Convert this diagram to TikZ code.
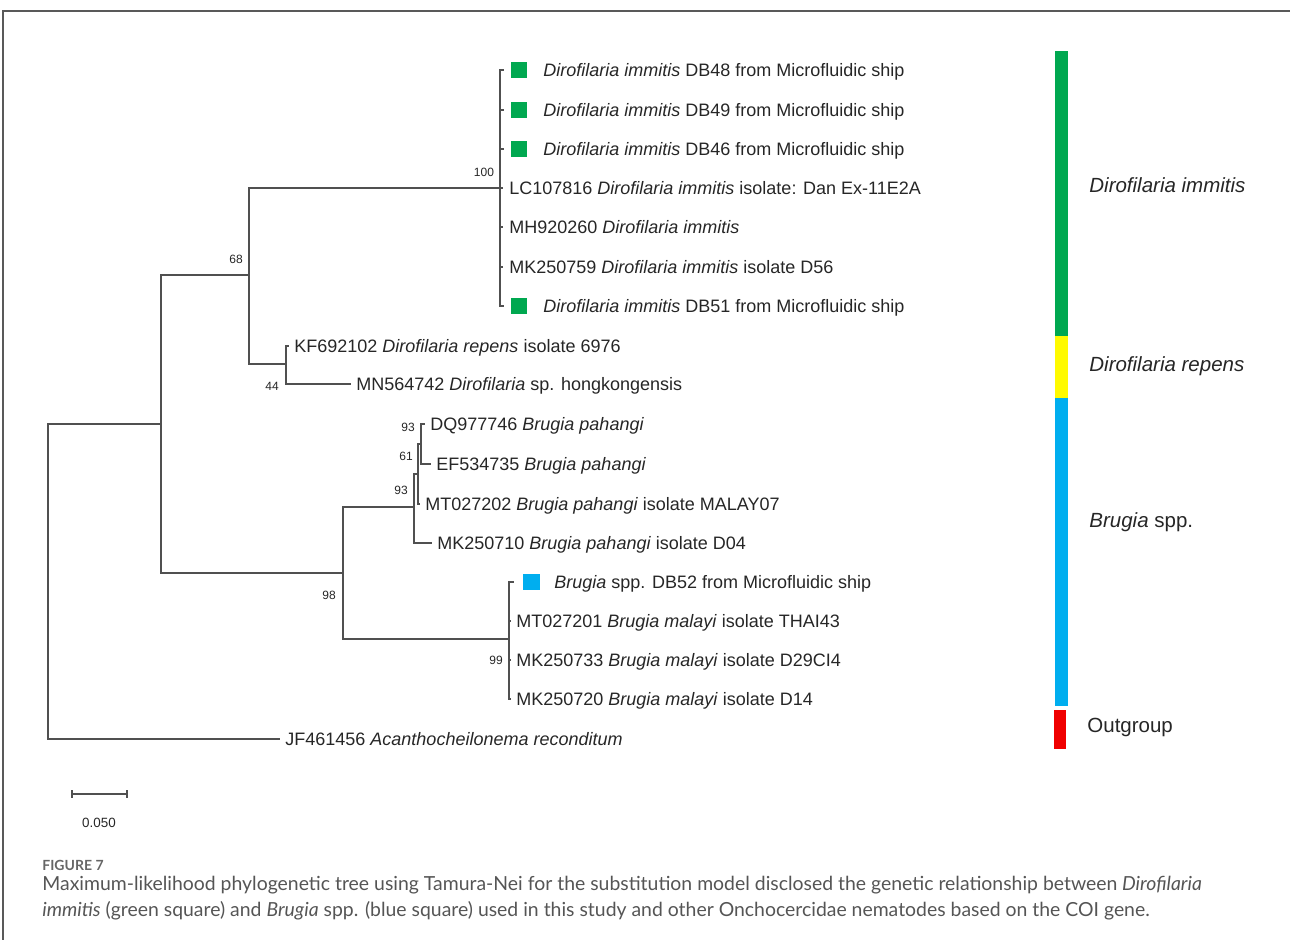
\documentclass[tikz,border=0pt]{standalone}
\usepackage{fontspec}
\setmainfont{Liberation Sans}
\newfontfamily\capfont{Lato}
\definecolor{dgreen}{RGB}{0,168,80}
\definecolor{dyellow}{RGB}{255,250,0}
\definecolor{dblue}{RGB}{0,174,239}
\definecolor{dred}{RGB}{240,0,0}
\definecolor{treeline}{RGB}{80,80,80}
\definecolor{capgray}{RGB}{85,85,85}
\newcommand{\gsq}{\hspace{1pt}\raisebox{-0.78pt}{\textcolor{dgreen}{\rule{8pt}{8pt}}}\hspace{8pt}}
\newcommand{\bsq}{\hspace{2pt}\raisebox{-0.78pt}{\textcolor{dblue}{\rule{8.5pt}{8pt}}}\hspace{7pt}}
\tikzset{
  edge/.style={draw=treeline, line width=0.75pt, line cap=rect},
  leaf/.style={anchor=west, inner xsep=3pt, inner ysep=0pt, text height=6.45pt, text depth=0pt,
    font=\fontsize{9}{10}\selectfont, text=black!85},
  boot/.style={inner sep=0pt, font=\fontsize{6}{7}\selectfont, text=black!85},
  grp/.style={anchor=west, inner sep=0pt, font=\fontsize{10.25}{12}\selectfont, text=black!85},
  capline/.style={anchor=base west, inner sep=0pt, font=\capfont\fontsize{9.7}{12}\selectfont, text=capgray},
}
\begin{document}
\begin{tikzpicture}[x=0.5pt,y=-0.5pt]
\useasboundingbox (0,0) rectangle (1290,940);
% frame
\draw[draw=black!65, line width=1pt] (3,940) -- (3,11) -- (1290,11);
% internal nodes
\coordinate (R) at (48,581);
\coordinate (I) at (161,424);
\coordinate (D) at (249,275);
\coordinate (Dim) at (500,188);
\coordinate (Drep) at (286,364);
\coordinate (B) at (343,573);
\coordinate (P) at (414,507);
\coordinate (P2) at (418,474);
\coordinate (A) at (421,444);
\coordinate (M) at (509,639);
% leaves
\node[leaf] (L1) at (503,70) {\gsq\textit{Dirofilaria immitis} DB48 from Microfluidic ship};
\node[leaf] (L2) at (503,110) {\gsq\textit{Dirofilaria immitis} DB49 from Microfluidic ship};
\node[leaf] (L3) at (503,149) {\gsq\textit{Dirofilaria immitis} DB46 from Microfluidic ship};
\node[leaf] (L4) at (502,188) {\hspace{0.5pt}LC107816 \textit{Dirofilaria immitis} isolate: Dan Ex-11E2A};
\node[leaf] (L5) at (502,227) {\hspace{0.5pt}MH920260 \textit{Dirofilaria immitis}};
\node[leaf] (L6) at (502,267) {\hspace{0.5pt}MK250759 \textit{Dirofilaria immitis} isolate D56};
\node[leaf] (L7) at (503,306) {\gsq\textit{Dirofilaria immitis} DB51 from Microfluidic ship};
\node[leaf] (KF) at (288,346) {KF692102 \textit{Dirofilaria repens} isolate 6976};
\node[leaf] (MN) at (350,384) {MN564742 \textit{Dirofilaria} sp. hongkongensis};
\node[leaf] (DQ) at (424,424) {DQ977746 \textit{Brugia pahangi}};
\node[leaf] (EF) at (430,464) {EF534735 \textit{Brugia pahangi}};
\node[leaf] (MT2) at (419,504) {MT027202 \textit{Brugia pahangi} isolate MALAY07};
\node[leaf] (MK1) at (431,543) {MK250710 \textit{Brugia pahangi} isolate D04};
\node[leaf] (DB52) at (513,582) {\bsq\textit{Brugia} spp. DB52 from Microfluidic ship};
\node[leaf] (MT1) at (510,621) {MT027201 \textit{Brugia malayi} isolate THAI43};
\node[leaf] (MK2) at (510,660) {MK250733 \textit{Brugia malayi} isolate D29CI4};
\node[leaf] (MK3) at (510,699) {MK250720 \textit{Brugia malayi} isolate D14};
\node[leaf] (OG) at (279,739) {JF461456 \textit{Acanthocheilonema reconditum}};
% edges
\draw[edge] (R) |- (I);
\draw[edge] (R) |- (OG.west);
\draw[edge] (I) |- (D);
\draw[edge] (I) |- (B);
\draw[edge] (D) |- (Dim);
\draw[edge] (D) |- (Drep);
\foreach \n in {L1,L2,L3,L4,L5,L6,L7} \draw[edge] (Dim) |- (\n.west);
\draw[edge] (Drep) |- (KF.west);
\draw[edge] (Drep) |- (MN.west);
\draw[edge] (B) |- (P);
\draw[edge] (B) |- (M);
\draw[edge] (P) |- (P2);
\draw[edge] (P) |- (MK1.west);
\draw[edge] (P2) |- (A);
\draw[edge] (P2) |- (MT2.west);
\draw[edge] (A) |- (DQ.west);
\draw[edge] (A) |- (EF.west);
\foreach \n in {DB52,MT1,MK2,MK3} \draw[edge] (M) |- (\n.west);
% bootstrap values
\node[boot] (b100) at (484,172) {100};
\node[boot] (b68) at (236,259) {68};
\node[boot] (b44) at (272,386) {44};
\node[boot] (b93a) at (408,427) {93};
\node[boot] (b61) at (406,456) {61};
\node[boot] (b93b) at (401,490) {93};
\node[boot] (b98) at (329,595) {98};
\node[boot] (b99) at (496,660) {99};
% scale bar
\coordinate (s1) at (72,794);
\coordinate (s2) at (127,794);
\draw[edge, line cap=butt] (s1) -- (s2);
\draw[edge, line cap=butt] ([yshift=2pt]s1) -- ([yshift=-2pt]s1);
\draw[edge, line cap=butt] ([yshift=2pt]s2) -- ([yshift=-2pt]s2);
\node[boot, font=\fontsize{6.7}{8}\selectfont] (sl) at (99,823) {0.050};
% group bars
\fill[dgreen] (1055,51) rectangle (1068,336);
\fill[dyellow] (1055,336) rectangle (1068,398);
\fill[dblue] (1055,398) rectangle (1068,706);
\fill[dred] (1054,710) rectangle (1066,749);
\node[grp] (g1) at (1089,185) {\textit{Dirofilaria immitis}};
\node[grp] (g2) at (1089,366) {\textit{Dirofilaria repens}};
\node[grp] (g3) at (1089,522) {\textit{Brugia} spp.};
\node[grp] (g4) at (1087,727) {Outgroup};
% caption
\node[anchor=base west, inner sep=0pt, font=\capfont\bfseries\fontsize{7}{8}\selectfont, text=black!60] (fig) at (42,870) {FIGURE 7};
\node[capline] (cap1) at (42,890) {Maximum-likelihood phylogenetic tree using Tamura-Nei for the substitution model disclosed the genetic relationship between \textit{Dirofilaria}};
\node[capline] (cap2) at (42,916) {\textit{immitis} (green square) and \textit{Brugia} spp. (blue square) used in this study and other Onchocercidae nematodes based on the COI gene.};
\end{tikzpicture}
\end{document}
